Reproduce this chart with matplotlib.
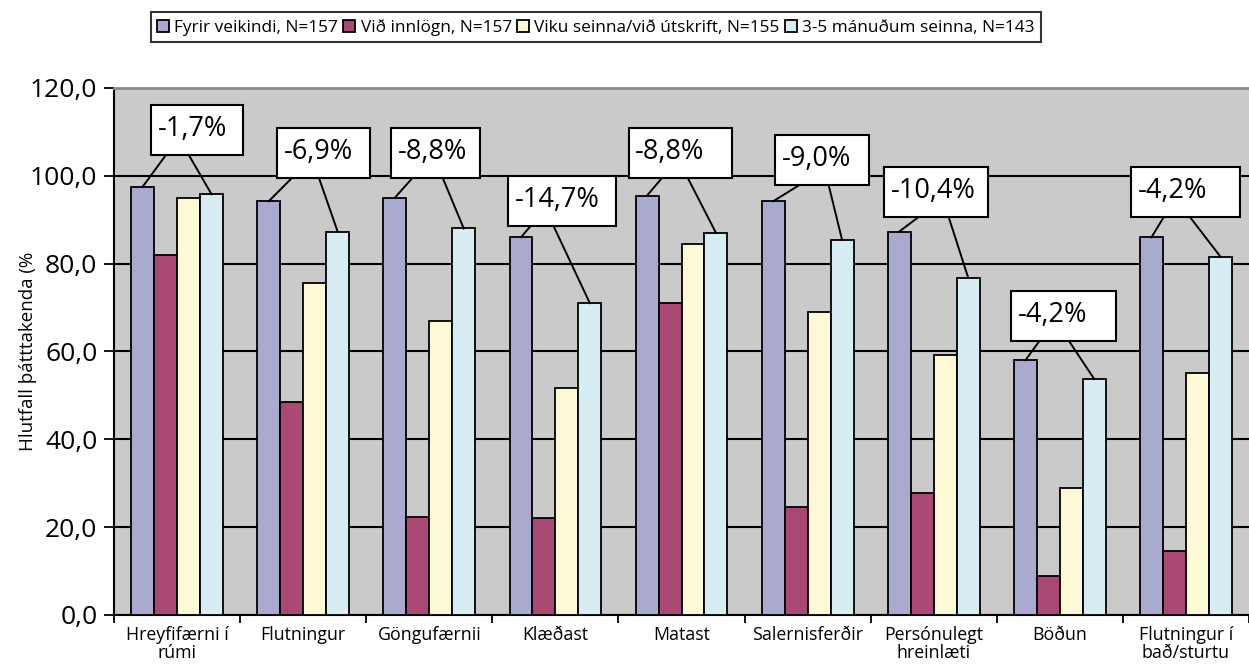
import numpy as np
import matplotlib as mpl
from matplotlib import pyplot as plt
from matplotlib.patches import Rectangle

mpl.rcParams["font.family"] = ["Open Sans", "DejaVu Sans"]

categories = [
    "Hreyfifærni í\nrúmi",
    "Flutningur",
    "Göngufærnii",
    "Klæðast",
    "Matast",
    "Salernisferðir",
    "Persónulegt\nhreinlæti",
    "Böðun",
    "Flutningur í\nbað/sturtu",
]
series_names = [
    "Fyrir veikindi, N=157",
    "Við innlögn, N=157",
    "Viku seinna/við útskrift, N=155",
    "3-5 mánuðum seinna, N=143",
]
fyrir = [97.5, 94.2, 95.0, 86.0, 95.5, 94.2, 87.3, 58.0, 86.0]
innlogn = [82.0, 48.5, 22.3, 22.0, 71.0, 24.6, 27.8, 8.8, 14.5]
viku = [95.0, 75.6, 67.0, 51.7, 84.5, 69.0, 59.3, 29.0, 55.0]
manudum = [95.8, 87.3, 88.0, 71.0, 87.0, 85.4, 76.8, 53.7, 81.6]
change_labels = ["-1,7%", "-6,9%", "-8,8%", "-14,7%", "-8,8%", "-9,0%", "-10,4%", "-4,2%", "-4,2%"]

colors = ["#AAAAD0", "#A94872", "#FDF9D6", "#D8EDF3"]

# label box layout: left offset from category centre, bottom, width, line start fractions
box_left = [-0.206, -0.207, -0.303, -0.375, -0.416, -0.258, -0.393, -0.386, -0.435]
box_bottom = [104.7, 99.5, 99.5, 88.6, 99.5, 97.9, 90.6, 62.4, 90.6]
box_width = [0.73, 0.738, 0.706, 0.856, 0.817, 0.745, 0.825, 0.833, 0.864]
line_a = [0.16, 0.16, 0.24, 0.21, 0.32, 0.26, 0.33, 0.27, 0.30]
line_b = [0.41, 0.45, 0.58, 0.42, 0.57, 0.57, 0.62, 0.55, 0.54]
box_height = 11.4

fig = plt.figure(figsize=(12.49, 6.66), dpi=100)
ax = fig.add_axes([0.0913, 0.0766, 0.9087, 0.7914])
ax.set_facecolor("#CACACA")

x = np.arange(len(categories))
width = 0.182
all_series = [fyrir, innlogn, viku, manudum]
for k, (vals, c, name) in enumerate(zip(all_series, colors, series_names)):
    ax.bar(x + (k - 1.5) * width, vals, width, color=c, edgecolor="black",
           linewidth=1.3, label=name, zorder=3)

ax.set_ylim(0, 120)
ax.set_xlim(-0.5, len(categories) - 0.5)
ax.set_yticks(np.arange(0, 121, 20))
ax.set_yticklabels([f"{v:.1f}".replace(".", ",") for v in np.arange(0, 121, 20)],
                   fontsize=19)
ax.yaxis.grid(True, color="black", linewidth=1.5, zorder=0)
ax.set_axisbelow(True)

ax.set_xticks(np.arange(-0.5, len(categories), 1.0))
ax.set_xticklabels([])
ax.set_xticks(x, minor=True)
ax.set_xticklabels(categories, minor=True, fontsize=12.8, linespacing=1.0)
ax.tick_params(axis="x", which="minor", length=0, pad=8)
ax.tick_params(axis="x", which="major", length=6, width=1.3, direction="out")
ax.tick_params(axis="y", length=7, width=1.3, direction="out", pad=5)

for s in ["left", "bottom"]:
    ax.spines[s].set_linewidth(1.5)
ax.spines["top"].set_color("#8A8A8A")
ax.spines["top"].set_linewidth(2)
ax.spines["right"].set_visible(False)

ax.set_ylabel("Hlutfall þátttakenda (%", fontsize=13.5)
ax.yaxis.set_label_coords(-0.068, 0.5)

for i in range(len(categories)):
    left = i + box_left[i]
    bot = box_bottom[i]
    w = box_width[i]
    ax.add_patch(Rectangle((left, bot), w, box_height, facecolor="white",
                           edgecolor="black", linewidth=1.5, zorder=5))
    ax.text(left + 0.05, bot + box_height * 0.52, change_labels[i], fontsize=19.5,
            ha="left", va="center", zorder=6)
    ax.plot([left + line_a[i] * w, i - 1.5 * width], [bot, fyrir[i]],
            color="black", linewidth=1.4, zorder=4)
    ax.plot([left + line_b[i] * w, i + 1.5 * width], [bot, manudum[i]],
            color="black", linewidth=1.4, zorder=4)

leg = fig.legend(loc="center", bbox_to_anchor=(0.477, 0.959), ncol=4,
                 fontsize=12.4, frameon=True, fancybox=False, edgecolor="black",
                 handlelength=0.7, handleheight=0.7, handletextpad=0.3,
                 columnspacing=0.3, borderpad=0.38, borderaxespad=0)
leg.get_frame().set_linewidth(1.5)

fig.savefig("out.png", dpi=100)
plt.close(fig)
